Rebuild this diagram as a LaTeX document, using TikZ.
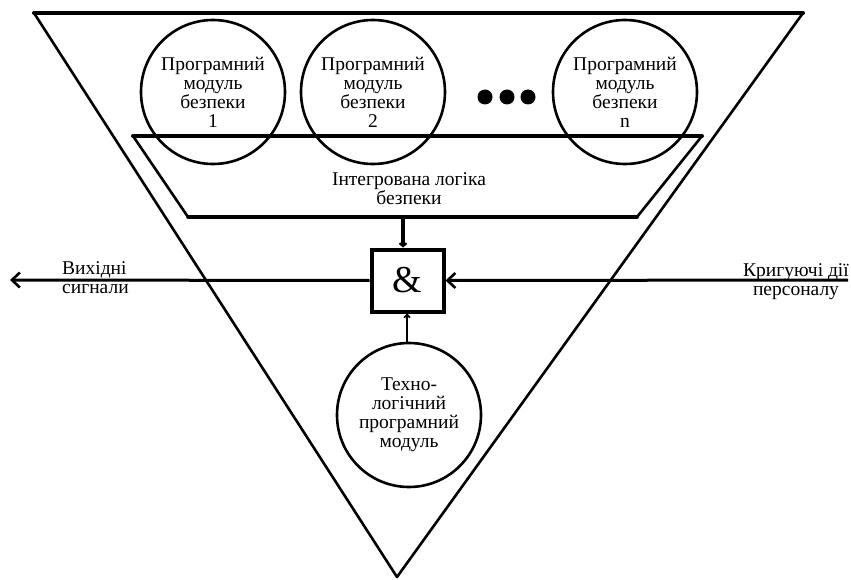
\documentclass[tikz,border=0pt]{standalone}
\usepackage{fontspec}
\setmainfont{Liberation Serif}
\newfontfamily\diagfont{Liberation Serif}
\usetikzlibrary{arrows.meta}
\tikzset{
  thickline/.style={line width=4pt, line cap=round, line join=round},
  sideline/.style={line width=2.6pt, line join=round},
  modcircle/.style={circle, draw, line width=2.6pt, minimum size=144pt, inner sep=0pt,
    align=center, font=\diagfont\fontsize{19.5}{19}\selectfont},
  andbox/.style={draw, line width=4pt, minimum width=72pt, minimum height=62pt,
    inner sep=0pt, font=\diagfont\fontsize{38}{38}\selectfont},
  lbl/.style={font=\diagfont\fontsize{19.5}{19}\selectfont, inner sep=0pt},
  barb/.style={-{Straight Barb[length=8pt,width=15pt,line width=2.6pt]}},
  dotnode/.style={circle, fill, inner sep=0pt, minimum size=15pt}
}
\begin{document}
\begin{tikzpicture}[x=1pt,y=-1pt]
\useasboundingbox (0,0) rectangle (851,580);
% big triangle
\coordinate (tl) at (34,13);
\coordinate (tr) at (803,13);
\coordinate (apex) at (397,577);
\draw[sideline] (tl) -- (apex) -- (tr);
\draw[thickline] (tl) -- (tr);
% trapezoid
\coordinate (ztl) at (133,136);
\coordinate (ztr) at (702,136);
\coordinate (zbr) at (637,217);
\coordinate (zbl) at (188,217);
\draw[sideline] (ztl) -- (zbl);
\draw[sideline] (ztr) -- (zbr);
\draw[thickline] (ztl) -- (ztr);
\draw[line width=3.6pt, line cap=round] (zbl) -- (zbr);
\node[lbl, align=center] (logic) at (409,189) {Інтегрована логіка\\безпеки};
% module circles
\node[modcircle] (m1) at (213,92) {Програмний\\модуль\\безпеки\\1};
\node[modcircle] (m2) at (373,92) {Програмний\\модуль\\безпеки\\2};
\node[modcircle] (mn) at (625,92) {Програмний\\модуль\\безпеки\\n};
\node[dotnode] (d1) at (485,97) {};
\node[dotnode] (d2) at (507,97) {};
\node[dotnode] (d3) at (528,97) {};
% AND box
\node[andbox] (and) at (407.5,280.5) {\&};
\coordinate (zout) at (403,217);
\draw[line width=4pt, -{Straight Barb[length=3pt,width=7pt,line width=2pt]}] (zout) -- (zout |- and.north);
% technological module
\node[modcircle] (tech) at (409,415) {Техно-\\логічний\\програмний\\модуль};
\draw[line width=2pt, -{Straight Barb[length=3pt,width=6pt,line width=1.6pt]}] (tech.north -| 407,0) -- (and.south -| 407,0);
% horizontal signals
\coordinate (outend) at (10,280);
\coordinate (inend) at (848,280);
\draw[line width=3pt, barb] (and.west) -- (outend);
\draw[line width=3pt, barb] (inend) -- (and.east);
\node[lbl, align=left, anchor=west] (outlbl) at (62,278) {Вихідні\\сигнали};
\node[lbl, align=center] (inlbl) at (796,282) {Кригуючі дії\\персоналу};
\end{tikzpicture}
\end{document}
